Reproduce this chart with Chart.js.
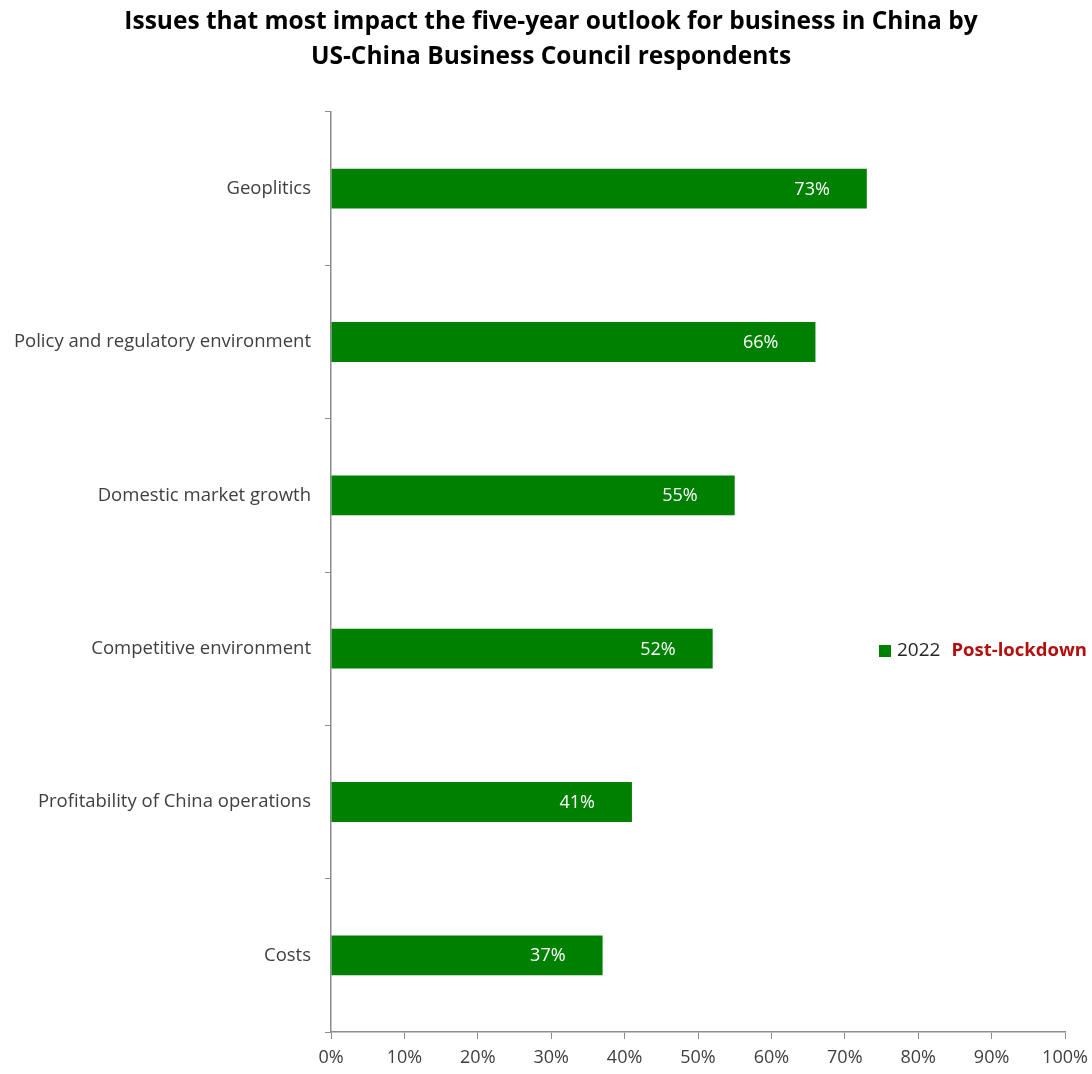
<!DOCTYPE html>
<html>
<head>
<meta charset="utf-8">
<script src="https://cdn.jsdelivr.net/npm/chart.js@4/dist/chart.umd.min.js"></script>
<style>
  html, body { margin: 0; padding: 0; background: #ffffff; }
  #wrap { width: 1092px; height: 1074px; }
</style>
</head>
<body>
<div id="wrap"><canvas id="c"></canvas></div>
<script>
const categories = [
  "Geoplitics",
  "Policy and regulatory environment",
  "Domestic market growth",
  "Competitive environment",
  "Profitability of China operations",
  "Costs"
];
const values2022 = [73, 66, 55, 52, 41, 37];
const seriesLabel = "2022";
const legendNote = "Post-lockdown";
const titleLines = [
  "Issues that most impact the five-year outlook for business in China by",
  "US-China Business Council respondents"
];

const FONT = "'Open Sans', 'Noto Sans', sans-serif";
const GREEN = "#008000";
const AXIS = "#8c8c8c";
const TEXT = "#404040";

// Two-line bold heading, centred over the figure
const heading = {
  id: "heading",
  afterDraw(chart) {
    const ctx = chart.ctx;
    ctx.save();
    ctx.font = "bold 24.5px " + FONT;
    ctx.fillStyle = "#000000";
    ctx.textAlign = "center";
    ctx.textBaseline = "middle";
    titleLines.forEach((line, i) => ctx.fillText(line, 551, 22 + i * 35));
    ctx.restore();
  }
};

// White value labels placed just inside the end of each bar
const valueLabels = {
  id: "valueLabels",
  afterDatasetsDraw(chart) {
    const ctx = chart.ctx;
    const meta = chart.getDatasetMeta(0);
    ctx.save();
    ctx.font = "18px " + FONT;
    ctx.fillStyle = "#ffffff";
    ctx.textAlign = "right";
    ctx.textBaseline = "middle";
    meta.data.forEach((bar, i) => {
      const v = chart.data.datasets[0].data[i];
      ctx.fillText(v + "%", bar.x - 37, bar.y + 1);
    });
    ctx.restore();
  }
};

// Series key drawn at the right side of the plot
const sideLegend = {
  id: "sideLegend",
  afterDraw(chart) {
    const ctx = chart.ctx;
    const ds = chart.data.datasets[0];
    const y = 651;
    let x = 879;
    ctx.save();
    ctx.fillStyle = ds.backgroundColor;
    ctx.fillRect(x, y - 6, 12, 12);
    x += 18;
    ctx.font = "19px " + FONT;
    ctx.fillStyle = "#262626";
    ctx.textAlign = "left";
    ctx.textBaseline = "middle";
    ctx.fillText(ds.label, x, y);
    x += ctx.measureText(ds.label).width + 11;
    ctx.font = "bold 18.5px " + FONT;
    ctx.fillStyle = "#b40f0f";
    ctx.fillText(legendNote, x, y);
    ctx.restore();
  }
};

new Chart(document.getElementById("c"), {
  type: "bar",
  data: {
    labels: categories,
    datasets: [{
      label: seriesLabel,
      data: values2022,
      backgroundColor: GREEN,
      borderWidth: 0,
      categoryPercentage: 1.0,
      barPercentage: 0.26
    }]
  },
  options: {
    indexAxis: "y",
    responsive: true,
    maintainAspectRatio: false,
    animation: false,
    layout: { padding: { left: 0, right: 27, top: 112, bottom: 0 } },
    plugins: {
      legend: { display: false },
      tooltip: { enabled: false },
      title: { display: false }
    },
    scales: {
      x: {
        min: 0,
        max: 100,
        ticks: {
          stepSize: 10,
          color: TEXT,
          font: { family: FONT, size: 18 },
          padding: 8,
          callback: v => v + "%"
        },
        grid: { drawOnChartArea: false, color: AXIS, tickLength: 7 },
        border: { color: AXIS, width: 1.5 },
        afterFit(scale) {
          scale.height = 42;
          scale.paddingLeft = 0;
          scale.paddingRight = 0;
        }
      },
      y: {
        ticks: {
          color: TEXT,
          font: { family: FONT, size: 18.5 },
          padding: 14
        },
        grid: { drawOnChartArea: false, offset: true, color: AXIS, tickLength: 6 },
        border: { color: AXIS, width: 1.5 },
        afterFit(scale) { scale.width = 331; }
      }
    }
  },
  plugins: [heading, valueLabels, sideLegend]
});
</script>
</body>
</html>
